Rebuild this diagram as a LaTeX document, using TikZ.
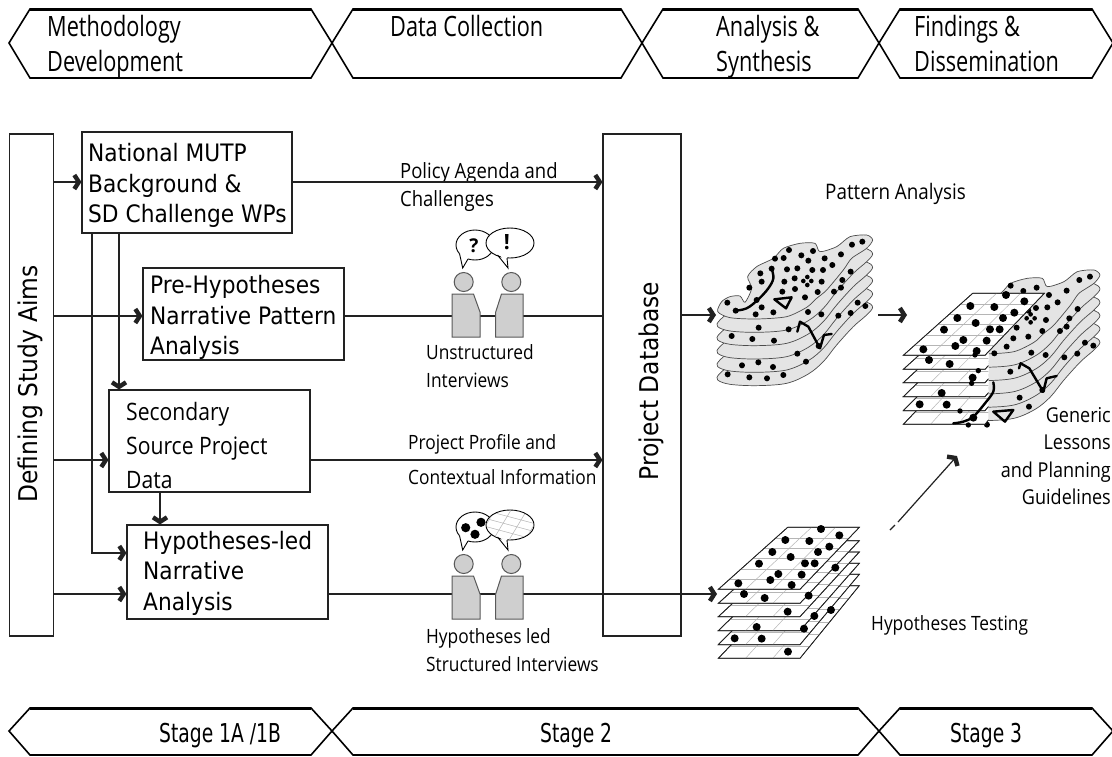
\documentclass[tikz,border=0pt]{standalone}
\usepackage{fontspec}
\usetikzlibrary{arrows.meta}
\setmainfont{Open Sans}
\newfontfamily\boxf[FakeStretch=0.905]{DejaVu Sans}
\newfontfamily\labf[FakeStretch=0.88]{Open Sans}
\newfontfamily\secf[FakeStretch=0.88]{Open Sans}
\newfontfamily\headf[FakeStretch=0.775]{Open Sans}
\newfontfamily\stagef[FakeStretch=0.72]{DejaVu Sans}
\newcommand\fs[1]{\fontsize{#1}{#1}\selectfont}
\definecolor{lineg}{HTML}{222222}
\definecolor{blobg}{HTML}{E4E4E4}
\definecolor{persong}{HTML}{CFCFCF}
\definecolor{gridl}{HTML}{B5B5B5}
\tikzset{
  chev/.style={draw=black,line width=1.6pt,fill=white},
  chevtop/.style={line width=3pt,black},
  boxn/.style={draw=lineg,line width=1.1pt,inner sep=0pt,fill=white},
  conn/.style={draw=lineg,line width=1.2pt},
  arr/.style={conn,-{Straight Barb[length=4.5pt,width=14pt,line width=4.4pt]}},
  bt/.style={anchor=base west,inner sep=0pt,font=\boxf\fs{24}},
  lab/.style={anchor=base west,inner sep=0pt,font=\labf\fs{19.7}},
  labr/.style={anchor=base east,inner sep=0pt,font=\labf\fs{20.5}},
  head/.style={anchor=base west,inner sep=0pt,font=\headf\fs{28}},
  stage/.style={anchor=base west,inner sep=0pt,font=\stagef\fs{26}},
  blob/.style={draw=black!70,line width=.7pt,fill=blobg},
  person/.style={draw=black!65,line width=1pt,fill=persong},
  bubble/.style={draw=black,line width=.9pt,fill=white},
  thickc/.style={draw=black,line width=2.4pt,line join=round,line cap=round},
}
\newcommand\chevron[3]{%
  \foreach \t/\m/\b in {#3}{
    \draw[chev] (#1,\m) -- ({#1+21},\t) -- ({#2-21},\t) -- (#2,\m) -- ({#2-21},\b) -- ({#1+21},\b) -- cycle;
    \draw[chevtop] ({#1+21},\t) -- ({#2-21},\t);
  }}
\newcommand\gridlay[2]{%
  \draw[draw=lineg,line width=.7pt,fill=white] (115,#1) -- (360,#1) -- (538,#2) -- (323,#2) -- cycle;
  \foreach \t in {.17,.33,.5,.67,.83}{
    \pgfmathsetmacro\yy{#1+(#2-#1)*\t}
    \pgfmathsetmacro\xa{115+208*\t}
    \pgfmathsetmacro\xb{360+178*\t}
    \draw[gridl,line width=.5pt] (\xa,\yy) -- (\xb,\yy);
  }
  \foreach \s in {.333,.667}{
    \pgfmathsetmacro\xa{115+245*\s}
    \pgfmathsetmacro\xb{323+215*\s}
    \draw[gridl,line width=.5pt] (\xa,#1) -- (\xb,#2);
  }
  \draw[draw=lineg,line width=.7pt] (115,#1) -- (360,#1) -- (538,#2) -- (323,#2) -- cycle;
}
\newcommand\lowerblob{
  \draw[blob] plot[smooth cycle,tension=.55] coordinates {(113,280)(150,293)(230,297)(320,290)(385,262)(430,225)(470,175)(520,120)(560,85)(578,62)(560,46)(520,50)(470,80)(300,150)(160,230)(118,262)};
}
\newcommand\topblob{
  \draw[blob] plot[smooth cycle,tension=.45] coordinates {(113,275)(125,245)(150,230)(180,228)(195,247)(215,205)(203,170)(230,140)(280,115)(310,85)(360,70)(405,70)(420,95)(470,80)(510,50)(560,45)(578,60)(560,85)(515,115)(490,150)(440,210)(410,235)(380,262)(320,290)(230,297)(150,293)};
}
\begin{document}
\begin{tikzpicture}[x=1pt,y=-1pt]
\useasboundingbox (0,0) rectangle (1112,756);
\fill[white] (0,0) rectangle (1112,756);

% header chevrons
\chevron{9}{332}{9/43/78}
\chevron{332}{642}{9/43/78}
\chevron{642}{879}{9/43/78}
\chevron{879}{1113}{9/43/78}
\node[head] (h1a) at (47,36) {Methodology};
\node[head] (h1b) at (47,71) {Development};
\node[head] (h2) at (390,36) {Data Collection};
\node[head] (h3a) at (716,36) {Analysis \&};
\node[head] (h3b) at (716,71) {Synthesis};
\node[head] (h4a) at (914,36) {Findings \&};
\node[head] (h4b) at (914,71) {Dissemination};

% stage chevrons
\chevron{9}{332}{708/731/755}
\chevron{332}{879}{708/731/755}
\chevron{879}{1113}{708/731/755}
\node[stage] (s1) at (159,742) {Stage 1A /1B};
\node[stage] (s2) at (540,742) {Stage 2};
\node[stage] (s3) at (950,742) {Stage 3};

% boxes
\node[boxn,minimum width=44pt,minimum height=502pt] (bar) at (31.5,385) {};
\node[boxn,minimum width=210pt,minimum height=101pt] (nat) at (187,182.5) {};
\node[boxn,minimum width=201pt,minimum height=92pt] (pre) at (243.5,314) {};
\node[boxn,minimum width=201pt,minimum height=102pt] (sec) at (209.5,441) {};
\node[boxn,minimum width=201pt,minimum height=94pt] (hyp) at (227.5,572) {};
\node[boxn,minimum width=78pt,minimum height=502pt] (db) at (642,385) {};
\node[inner sep=0pt,rotate=90,font=\boxf\fs{25.8}] (barl) at (30,384) {Defining Study Aims};
\node[inner sep=0pt,rotate=90,font=\boxf\fs{25.8}] (dbl) at (651,381) {Project Database};

\node[bt] (t1a) at (88,161) {National MUTP};
\node[bt] (t1b) at (88,192) {Background \&};
\node[bt] (t1c) at (88,222) {SD Challenge WPs};
\node[bt] (t2a) at (150,293) {Pre-Hypotheses};
\node[bt] (t2b) at (150,324) {Narrative Pattern};
\node[bt] (t2c) at (150,354) {Analysis};
\node[bt,font=\secf\fs{24}] (t3a) at (126,420) {Secondary};
\node[bt,font=\secf\fs{24}] (t3b) at (126,454) {Source Project};
\node[bt,font=\secf\fs{24}] (t3c) at (126,488) {Data};
\node[bt] (t4a) at (143,549) {Hypotheses-led};
\node[bt] (t4b) at (143,579) {Narrative};
\node[bt] (t4c) at (143,610) {Analysis};

% labels
\node[lab,font=\labf\fs{21}] (l1a) at (400,178) {Policy Agenda and};
\node[lab,font=\labf\fs{21}] (l1b) at (400,206) {Challenges};
\node[lab,font=\labf\fs{21.4}] (l2) at (825,199) {Pattern Analysis};
\node[lab] (l3a) at (426,359) {Unstructured};
\node[lab] (l3b) at (426,387) {Interviews};
\node[lab] (l4a) at (408,449) {Project Profile and};
\node[lab] (l4b) at (408,484) {Contextual Information};
\node[lab] (l5a) at (426,643) {Hypotheses led};
\node[lab] (l5b) at (426,671) {Structured Interviews};
\node[lab] (l6) at (871,630) {Hypotheses Testing};
\node[labr] (l7a) at (1111,422) {Generic};
\node[labr] (l7b) at (1111,449) {Lessons};
\node[labr] (l7c) at (1111,477) {and Planning};
\node[labr] (l7d) at (1111,504) {Guidelines};

% connectors
\coordinate (patin) at (716,315);
\coordinate (patout) at (878,315);
\coordinate (stackr) at (907,315);
\coordinate (hypin) at (717,594);
\coordinate (dgA) at (890,530);
\coordinate (dgB) at (895,525);
\coordinate (dgC) at (898,522);
\coordinate (dgD) at (957,456);
\draw[arr] (bar.east |- 0,182) -- (nat.west |- 0,182);
\draw[arr] (bar.east |- 0,316) -- (pre.west |- 0,316);
\draw[arr] (bar.east |- 0,460) -- (sec.west |- 0,460);
\draw[arr] (bar.east |- 0,594) -- (hyp.west |- 0,594);
\draw[arr] (nat.east |- 0,182) -- (db.west |- 0,182);
\draw[arr] (92,233) -- (92,553) -- (hyp.west |- 0,553);
\draw[arr] (119,233) -- (119,0 |- sec.north);
\draw[arr] (160,492) -- (160,0 |- hyp.north);
\draw[conn] (pre.east |- 0,316) -- (db.west |- 0,316);
\draw[arr] (sec.east |- 0,460) -- (db.west |- 0,460);
\draw[arr] (hyp.east |- 0,594) -- (hypin);
\draw[arr] (db.east |- 0,315) -- (patin);
\draw[arr] (patout) -- (stackr);
\draw[conn] (dgA) -- (dgB);
\draw[arr] (dgC) -- (dgD);

% persons and speech bubbles
\foreach \yo in {0,282}{
\begin{scope}[yshift=-\yo pt]
  \draw[person] (452,294) -- (473.5,294) -- (480,312) -- (480,337) -- (452,337) -- cycle;
  \draw[person] (523,294) -- (501.5,294) -- (495.7,312) -- (495.7,337) -- (523,337) -- cycle;
  \draw[person] (463.7,282) circle (9.5);
  \draw[person] (511.3,282) circle (9.5);
  \draw[bubble] (475,245) ellipse (19 and 15);
  \fill[white] (459.5,253) -- (462.7,268) -- (468,259) -- (470,250) -- cycle;
  \draw[bubble,fill=none] (459.5,253.5) -- (462.7,268) -- (468,259);
  \draw[bubble] (510,243) ellipse (24 and 15);
  \fill[white] (497,250) -- (508,268) -- (507,258) -- (510,250) -- cycle;
  \draw[bubble,fill=none] (497.5,255) -- (508,268) -- (507,258);
\end{scope}
}
\node[inner sep=0pt,font=\bfseries\fs{19}] (qm) at (474,246) {?};
\node[inner sep=0pt,font=\bfseries\fs{21}] (em) at (507,242) {!};
\fill (465.7,527.7) circle (4.6) (481,522.3) circle (4.6) (475,534.3) circle (4.6);
\begin{scope}
  \clip (510,525) ellipse (23.5 and 14.5);
  \foreach \d in {-16,-8,0,8,16}{ \draw[gridl,line width=.5pt] (480,{525+\d-8}) -- (540,{525+\d+8}); }
  \foreach \d in {-24,-8,8,24}{ \draw[gridl,line width=.5pt] ({510+\d+12},505) -- ({510+\d-12},545); }
\end{scope}

% pattern-analysis map
\begin{scope}[shift={(680,220)},x=.3333pt,y=-.3333pt]
  \foreach \o in {200,160,120,80,40}{ \begin{scope}[yshift=-\o*.3333pt]\lowerblob\end{scope} }
  \topblob
  \foreach \x/\y in {516/74,547/65,483/103,457/135,434/115,399/93,364/106,385/122,327/90,311/114,285/116,275/146,241/160,321/148,352/145,397/150,429/150,512/155,344/175,313/185,245/185,208/203,425/185,487/180,483/203,462/215,345/207,307/215,413/216,375/232,230/240,142/248,245/262,167/272,227/283,280/277,384/276,424/283,475/287,512/279,533/248,556/258,236/323,326/328,155/348,217/357,282/362,352/401,416/378,378/425,186/436,235/427,279/441,143/463,208/472,261/475,310/465}
    \fill (\x,\y) circle (9);
  \foreach \x/\y in {382/171,394/183,382/195,370/183} \fill (\x,\y) circle (7);
  \draw[thickc] plot[smooth,tension=.6] coordinates {(275,146)(280,175)(265,205)(235,238)(200,265)(165,272)};
  \draw[thickc] (283,238) -- (335,232) -- (318,265) -- cycle;
  \draw[thickc] (352,335) -- (360,305) -- (385,320) -- (420,385) -- (432,345) -- (455,342);
\end{scope}

% combined stack: map part
\begin{scope}[shift={(907.3,255)},x=.3333pt,y=-.3333pt]
  \foreach \o in {200,160,120,80,40}{ \begin{scope}[yshift=-\o*.3333pt]\lowerblob\end{scope} }
  \topblob
\end{scope}
\begin{scope}[shift={(680,220)},x=.3333pt,y=-.3333pt]
  \foreach \x/\y in {1198/180,1230/170,1160/212,1133/247,1107/225,1068/264,1102/262,1098/300,1087/333,1045/350,1010/323,1000/355,980/380,943/400,1168/295,1160/320,1140/333,1193/267,1054/398,1097/405,1153/412,1192/401,1215/368,1240/377,991/455,1087/510,1019/533,1047/560,992/197,1070/203,1030/213,921/614,1045/272}
    \fill (\x,\y) circle (9);
  \foreach \x/\y in {1052/283,1064/295,1052/307,1040/295} \fill (\x,\y) circle (7);
  \draw[thickc] (1017,445) -- (1022,430) -- (1048,445) -- (1090,515) -- (1100,475) -- (1130,468);
  \draw[thickc] (940,575) -- (1000,570) -- (975,605) -- cycle;
\end{scope}
\begin{scope}[shift={(865,216)},x=.3333pt,y=-.3333pt]
  \begin{scope}
    \clip (0,0) rectangle (370,700);
    \gridlay{625}{407}
    \gridlay{584}{373}
    \gridlay{542}{340}
    \gridlay{500}{306}
    \gridlay{460}{272}
  \end{scope}
  \gridlay{418}{232}
  \foreach \x/\y in {423/237,478/256,316/270,388/273,448/290,277/306,414/306,332/321,237/341,375/340,404/340,295/372,365/374,271/390,175/400,335/405,192/432,254/444,323/485,230/531,164/565,245/566,325/605}
    \fill (\x,\y) circle (12);
  \foreach \x/\y in {340/464,320/502,285/585,310/627,330/417}
    \fill (\x,\y) circle (8);
\end{scope}
\begin{scope}[shift={(680,220)},x=.3333pt,y=-.3333pt]
  \draw[thickc] plot[smooth,tension=.6] coordinates {(940,487)(940,515)(915,550)(880,590)(850,605)(820,610)};
\end{scope}

% hypotheses-testing stack
\begin{scope}[shift={(680,450)},x=.3333pt,y=-.3333pt]
  \gridlay{625}{407}
  \gridlay{584}{373}
  \gridlay{542}{340}
  \gridlay{500}{306}
  \gridlay{460}{272}
  \gridlay{418}{232}
  \foreach \x/\y in {423/237,478/256,316/270,388/273,448/290,277/306,414/306,332/321,237/341,375/340,404/340,295/372,365/374,271/390,175/400,335/405,192/432,254/444,386/437,466/353,323/485,403/498,453/480,230/531,372/536,164/565,245/566,324/605}
    \fill (\x,\y) circle (12);
\end{scope}
\end{tikzpicture}
\end{document}
